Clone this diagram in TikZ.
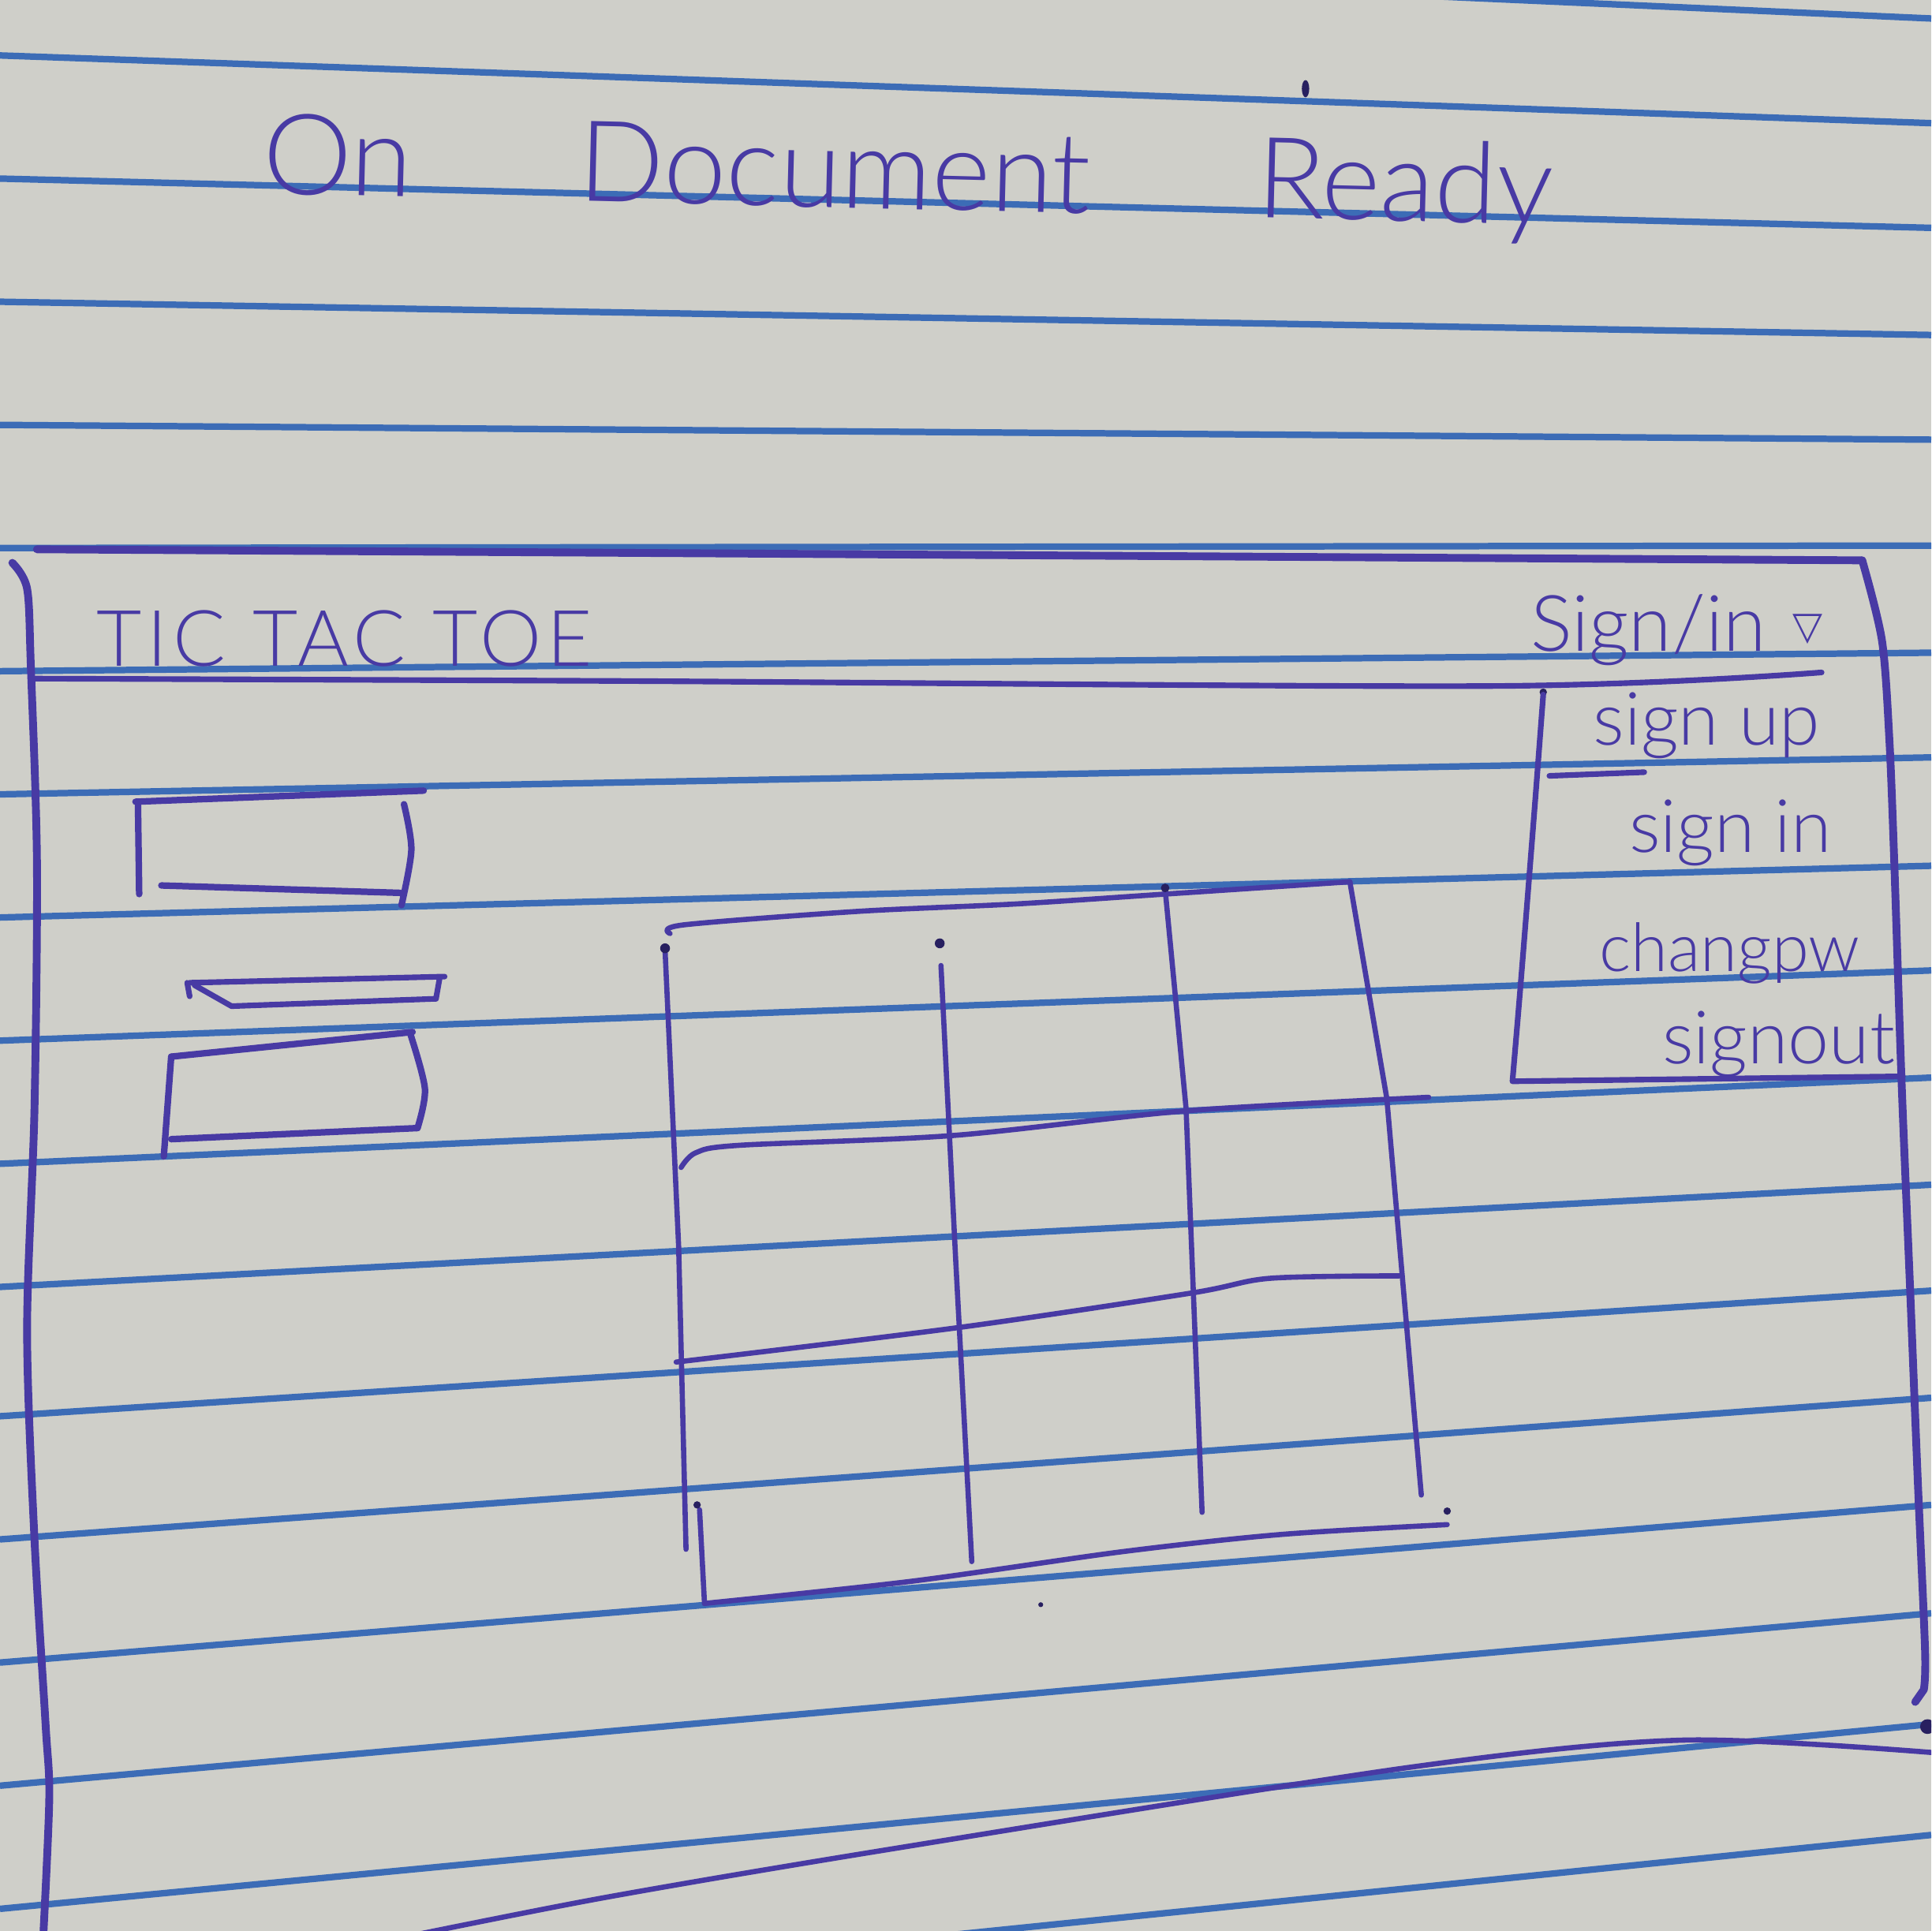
\documentclass[tikz,border=0pt]{standalone}
\usepackage{fontspec}
\IfFontExistsTF{Lato Light}{\setmainfont{Lato Light}}{\setmainfont{Lato}}
\newfontfamily\symfont{DejaVu Sans}
\definecolor{paper}{RGB}{207,207,201}
\definecolor{rulecol}{RGB}{60,108,182}
\definecolor{inkcol}{RGB}{72,58,164}
\definecolor{inkdark}{RGB}{40,32,96}
\begin{document}
\begin{tikzpicture}[x=0.01cm, y=-0.01cm,
  rule/.style={draw=rulecol, line width=1.5pt},
  ink/.style={draw=inkcol, line width=1.5pt, line cap=round, line join=round},
  frame/.style={ink, line width=1.8pt},
  gridline/.style={ink, line width=1.2pt},
  hand/.style={text=inkcol, inner sep=0pt, anchor=base west},
  menu/.style={hand, font=\fontsize{17}{20}\selectfont},
  inkdot/.style={fill=inkdark},
]
\useasboundingbox (0,0) rectangle (1568,1568);
\fill[paper] (0,0) rectangle (1568,1568);

\begin{scope}
\clip (0,0) rectangle (1568,1568);

% ruled notebook lines (left end / right end)
\foreach \l/\r in {-55/15, 45/100, 145/185, 245/272, 345/357, 445/443,
                   545/530, 645/615, 745/703, 845/788, 945/875, 1045/962,
                   1150/1048, 1250/1135, 1350/1222, 1450/1310, 1550/1400,
                   1650/1490, 1750/1578}
  \draw[rule] (0,\l) -- (1568,\r);

% heading
\node[hand, font=\fontsize{26}{30}\selectfont, rotate=-1.4] (heading) at (212,157)
  {On\hspace{1.35cm}Document\hspace{1.35cm}Ready};
\fill[inkdot] (1060,72) ellipse (3 and 7);

% page frame
\draw[frame] (30,446) -- (1512,455);
\draw[frame] plot[smooth] coordinates {(10,457) (22,478) (25,540) (30,700) (28,900)
  (22,1080) (28,1250) (37,1400) (40,1460) (35,1575)};
\draw[frame] plot[smooth] coordinates {(1512,455) (1528,520) (1534,600) (1538,700)
  (1544,880) (1551,1050) (1557,1200) (1563,1340) (1562,1372)} -- (1555,1382);
\fill[inkdot] (1565,1402) circle (6);
\draw[ink, line width=1.2pt] plot[smooth] coordinates {(318,1575) (490,1541) (720,1502)
  (1145,1435) (1366,1413) (1568,1423)};

% navigation bar
\node[hand, font=\fontsize{18}{22}\selectfont\addfontfeature{LetterSpace=7}] (brand) at (78,541) {TIC TAC TOE};
\node[hand, font=\fontsize{18}{22}\selectfont] (account) at (1242,529)
  {Sign/in\hspace{0.22cm}\raisebox{0.1cm}{\symfont\fontsize{9}{10}\selectfont ▽}};
\draw[ink, line width=1.3pt] plot[smooth] coordinates {(25,551) (513,553) (1217,557) (1479,546)};

% account dropdown
\fill[inkdot] (1253,562) circle (3);
\draw[ink, line width=1.3pt] plot[smooth] coordinates {(1253,564) (1246,656) (1235,795) (1228,878)}
  -- (1545,874);
\draw[ink, line width=1.3pt] (1258,630) -- (1335,627);
\node[menu] (signup) at (1293,605) {sign up};
\node[menu] (signin) at (1322,692) {sign in};
\node[menu, font=\fontsize{15.5}{18}\selectfont] (changepw) at (1298,789) {changpw};
\node[menu] (signout) at (1349,864) {signout};

% left-hand form fields
\draw[ink] (110,651) -- (344,642);
\draw[ink] (112,651) -- (113,726);
\draw[ink] (131,719) -- (325,725);
\draw[ink] plot[smooth] coordinates {(328,653) (334,690) (326,735)};

\draw[ink, line width=1.3pt] (152,798) -- (154,809);
\draw[ink, line width=1.3pt] (154,798) -- (361,793);
\draw[ink, line width=1.3pt] (158,800) -- (188,817) -- (354,811);
\draw[ink, line width=1.3pt] (357,794) -- (354,811);

\draw[ink] (139,858) -- (335,838);
\draw[ink] (139,858) -- (133,939);
\draw[ink] (139,925) -- (339,916);
\draw[ink] plot[smooth] coordinates {(333,839) (345,884) (339,916)};

% game board
\draw[gridline] plot[smooth] coordinates {(544,758) (555,751) (697,740) (825,734) (946,726) (1096,716)};
\draw[gridline] (540,772) -- (551,1012) -- (557,1258);
\draw[gridline] (764,784) -- (776,1024) -- (789,1268);
\draw[gridline] (946,722) -- (963,900) -- (976,1228);
\draw[gridline] (1096,716) -- (1126,892) -- (1154,1214);
\draw[gridline] plot[smooth] coordinates {(553,948) (565,936) (600,930) (774,922) (963,902) (1160,891)};
\draw[gridline] plot[smooth] coordinates {(549,1106) (778,1078) (967,1050) (1031,1038) (1136,1036)};
\draw[gridline] (568,1226) -- (572,1302);
\draw[gridline] plot[smooth] coordinates {(572,1302) (740,1284) (911,1260) (1040,1246) (1175,1238)};
\fill[inkdot] (540,770) circle (4);
\fill[inkdot] (763,766) circle (4);
\fill[inkdot] (946,721) circle (3.5);
\fill[inkdot] (566,1222) circle (3);
\fill[inkdot] (1175,1227) circle (3);
\fill[inkdot] (845,1303) circle (2);
\end{scope}
\end{tikzpicture}
\end{document}
